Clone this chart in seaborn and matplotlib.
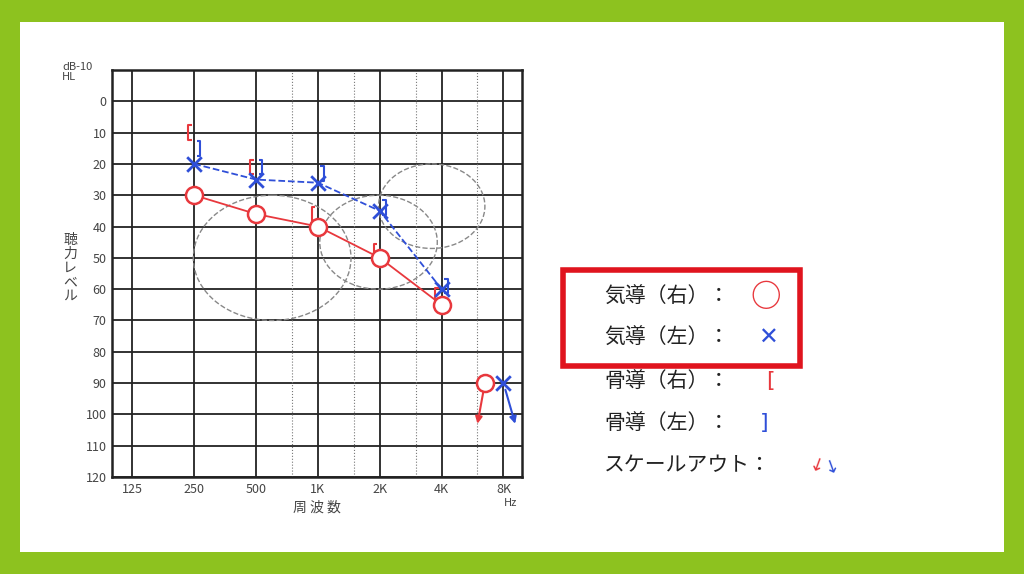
import numpy as np
import pandas as pd
import matplotlib
matplotlib.use("Agg")
import matplotlib.pyplot as plt
import seaborn as sns
from matplotlib.patches import Ellipse, Rectangle
from matplotlib.path import Path

sns.set_style("white")
plt.rcParams['font.family'] = ['Noto Sans CJK JP', 'DejaVu Sans']

# frequency positions in octaves from 125 Hz
freq_labels = ["125", "250", "500", "1K", "2K", "4K", "8K"]
air_pos = [1, 2, 3, 4, 5]
air_right = [30, 36, 40, 50, 65]
air_left = [20, 25, 26, 35, 60]
bone_right_pos = [0.9, 1.9, 2.9, 3.9, 4.9]
bone_right = [10, 21, 36, 48, 62]
bone_left_pos = [1.1, 2.1, 3.1, 4.1, 5.1]
bone_left = [15, 21, 23, 34, 59]
out_right = (5.7, 90)
out_left = (6.0, 90)
# ellipses: center x, center y, width (octaves), height (dB)
circles = [(2.26, 50, 2.55, 40), (3.98, 45, 1.9, 30), (4.84, 33.5, 1.72, 27)]

RED = "#e8383d"
BLUE = "#2f4fd8"

fig = plt.figure(figsize=(10.24, 5.74), dpi=100)
fig.patch.set_facecolor("#8dc21f")
fig.add_artist(Rectangle((20/1024, 22/574), 984/1024, 530/574, transform=fig.transFigure,
                         facecolor="white", edgecolor="none", zorder=-5))
ax = fig.add_axes([112/1024, 1-477/574, 410/1024, 407/574])
ax.set_facecolor("white")
ax.set_xlim(-0.33, 6.3)
ax.set_ylim(120, -10)
ax.set_xticks(range(7))
ax.set_xticklabels(freq_labels, fontsize=9, color="#444")
ax.set_yticks(range(-10, 121, 10))
ax.set_yticklabels([""] + [str(v) for v in range(0, 121, 10)], fontsize=9, color="#444")
ax.tick_params(length=0, pad=4)
for v in range(-10, 121, 10):
    ax.axhline(v, color="#222", lw=1.3, zorder=0)
for i in range(7):
    ax.axvline(i, color="#222", lw=1.3, zorder=0)
for i in range(3, 7):
    ax.axvline(i - 0.42, color="#777", lw=0.8, ls=":", zorder=0)
for s in ax.spines.values():
    s.set_linewidth(1.8)
    s.set_color("#222")

for cx, cy, w, h in circles:
    ax.add_patch(Ellipse((cx, cy), w, h, fill=False, ls="--", ec="#888", lw=1))

df = pd.DataFrame({"x": air_pos + air_pos, "y": air_right + air_left,
                   "ear": ["R"] * 5 + ["L"] * 5})
sns.lineplot(data=df[df.ear == "R"], x="x", y="y", color=RED, lw=1.3, ax=ax)
sns.lineplot(data=df[df.ear == "L"], x="x", y="y", color=BLUE, lw=1.3, ls="--", ax=ax)
ax.set_xlabel("")
ax.set_ylabel("")
ax.scatter(air_pos, air_right, s=150, facecolor="white", edgecolor=RED, lw=1.8, zorder=5)
ax.scatter(air_pos, air_left, s=110, marker="x", color=BLUE, lw=2, zorder=5)

lb = Path([(0.5, 1), (0, 1), (0, -1), (0.5, -1)], [1, 2, 2, 2])
rb = Path([(-0.5, 1), (0, 1), (0, -1), (-0.5, -1)], [1, 2, 2, 2])
ax.scatter(bone_right_pos, bone_right, s=110, marker=lb, facecolor="none", edgecolor=RED, lw=1.5, zorder=4)
ax.scatter(bone_left_pos, bone_left, s=110, marker=rb, facecolor="none", edgecolor=BLUE, lw=1.5, zorder=4)

ax.scatter([out_right[0]], [out_right[1]], s=150, facecolor="white", edgecolor=RED, lw=1.8, zorder=5)
ax.scatter([out_left[0]], [out_left[1]], s=110, marker="x", color=BLUE, lw=2, zorder=5)
ax.annotate("", xy=(out_right[0] - 0.12, out_right[1] + 13), xytext=out_right,
            arrowprops=dict(arrowstyle="-|>", color=RED, lw=1.5, shrinkA=6, shrinkB=0))
ax.annotate("", xy=(out_left[0] + 0.19, out_left[1] + 13), xytext=out_left,
            arrowprops=dict(arrowstyle="-|>", color=BLUE, lw=1.5, shrinkA=5, shrinkB=0))

fig.text(317/1024, 1-508/574, "周 波 数", fontsize=10, color="#444", ha="center", va="center")
fig.text(70/1024, 1-268/574, "聴\n力\nレ\nベ\nル", fontsize=10, color="#444", ha="center", va="center",
         linespacing=1.0)
fig.text(62/1024, 1-72/574, "dB-10\nHL", fontsize=8, color="#444", va="center", linespacing=0.9)
fig.text(504/1024, 1-503/574, "Hz", fontsize=8, color="#444", va="center")

# legend
rows = ["気導（右）：", "気導（左）：", "骨導（右）：", "骨導（左）：", "スケールアウト："]
ys = [297, 338, 381, 423, 465]
for t, y in zip(rows, ys):
    fig.text(604/1024, 1-y/574, t, fontsize=15, color="#222", va="center")
fig.text(766/1024, 1-297/574, "○", fontsize=22, color=RED, va="center", ha="center", weight="bold")
fig.text(768/1024, 1-338/574, "✕", fontsize=17, color=BLUE, va="center", ha="center",
         family=['DejaVu Sans'], weight="bold")
fig.text(766/1024, 1-381/574, "[", fontsize=16, color=RED, va="center", family=['DejaVu Sans'])
fig.text(760/1024, 1-423/574, "]", fontsize=16, color=BLUE, va="center", family=['DejaVu Sans'])
fig.text(806/1024, 1-467/574, "↓", fontsize=13, color=RED, va="center", family=['DejaVu Sans'], rotation=-20)
fig.text(822/1024, 1-467/574, "↓", fontsize=13, color=BLUE, va="center", family=['DejaVu Sans'], rotation=20)
fig.add_artist(Rectangle((563/1024, 1-366/574), 237/1024, 96/574, transform=fig.transFigure,
                         fill=False, edgecolor="#e0141e", lw=4))

fig.savefig("out.png", dpi=100, facecolor=fig.get_facecolor())
